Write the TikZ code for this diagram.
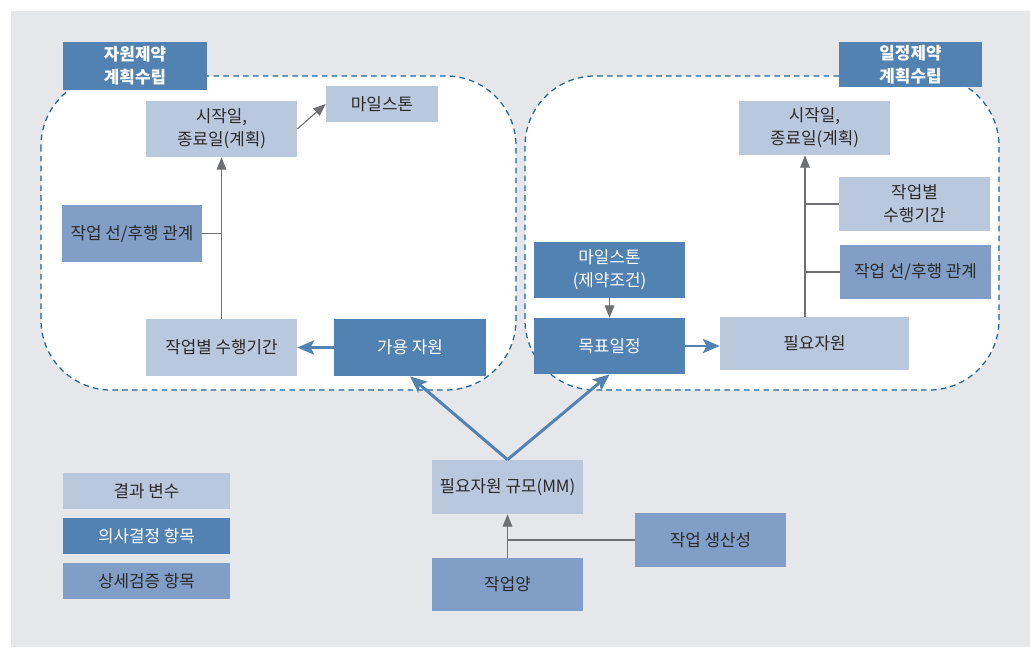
\documentclass[tikz,border=0pt]{standalone}
\usepackage{fontspec}
\newfontfamily\krfont{Noto Sans CJK KR}
\usetikzlibrary{arrows.meta}
\definecolor{bgray}{HTML}{E6E7EA}
\definecolor{rsltc}{HTML}{BAC8DE}
\definecolor{dcsnc}{HTML}{5282B1}
\definecolor{vrfyc}{HTML}{819EC6}
\definecolor{linec}{HTML}{6E6F72}
\definecolor{dashc}{HTML}{1F6496}
\definecolor{txtc}{HTML}{2A2A2A}

\begin{document}
\begin{tikzpicture}
  [x=0.02cm,y=-0.02cm,
   every node/.style={rectangle,inner sep=0pt,align=center,text=txtc,
     font=\krfont\fontsize{9.6}{13}\selectfont},
   rslt/.style={fill=rsltc},
   dcsn/.style={fill=dcsnc,text=white},
   vrfy/.style={fill=vrfyc},
   ttl/.style={fill=dcsnc,text=white,font=\krfont\bfseries\fontsize{9.6}{13}\selectfont},
   zone/.style={draw=dashc,dash pattern=on 3.2pt off 2.4pt,fill=white,rounded corners=1.4cm,line width=0.7pt},
   thin/.style={draw=linec,line width=0.6pt},
   flow/.style={thin,-{Triangle[length=7pt,width=5.5pt]}},
   push/.style={draw=dcsnc,line width=1.7pt,-{Stealth[length=9.5pt,width=8pt,inset=2pt]}}]
  \useasboundingbox (0,0) rectangle (1030,648);
  \fill[bgray] (11,11) rectangle (1030,647);
  \draw[zone] (41,76) rectangle (516,390);
  \draw[zone] (525,76) rectangle (999,390);

  % left zone
  \node[ttl,minimum width=2.88cm,minimum height=0.96cm] (tL) at (135,66) {자원제약\\계획수립};
  \node[rslt,minimum width=3.02cm,minimum height=1.12cm] (startL) at (221.5,129) {시작일,\\종료일(계획)};
  \node[rslt,minimum width=2.24cm,minimum height=0.72cm] (mileL) at (382,104) {마일스톤};
  \node[vrfy,minimum width=2.8cm,minimum height=1.14cm] (precL) at (132,233.5) {작업 선/후행 관계};
  \node[rslt,minimum width=3.02cm,minimum height=1.14cm] (durL) at (221.5,347.5) {작업별 수행기간};
  \node[dcsn,minimum width=3.04cm,minimum height=1.14cm] (avail) at (410,347.5) {가용 자원};

  % right zone
  \node[ttl,minimum width=2.86cm,minimum height=0.9cm] (tR) at (910.5,64.5) {일정제약\\계획수립};
  \node[rslt,minimum width=3.02cm,minimum height=1.08cm] (startR) at (814.5,128) {시작일,\\종료일(계획)};
  \node[rslt,minimum width=3.02cm,minimum height=1.08cm] (durR) at (914.5,204) {작업별\\수행기간};
  \node[vrfy,minimum width=3.02cm,minimum height=1.08cm] (precR) at (915.5,272) {작업 선/후행 관계};
  \node[dcsn,minimum width=3.02cm,minimum height=1.12cm] (mileR) at (609.5,270) {마일스톤\\(제약조건)};
  \node[dcsn,minimum width=3.02cm,minimum height=1.12cm] (target) at (609.5,346) {목표일정};
  \node[rslt,minimum width=3.78cm,minimum height=1.06cm] (need) at (814.5,343.5) {필요자원};

  % bottom
  \node[rslt,minimum width=3.02cm,minimum height=1.08cm] (scale) at (507.5,487) {필요자원 규모(MM)};
  \node[vrfy,minimum width=3.02cm,minimum height=1.08cm] (prod) at (710.5,540) {작업 생산성};
  \node[vrfy,minimum width=3.02cm,minimum height=1.06cm] (work) at (507.5,584.5) {작업양};

  % legend
  \node[rslt,minimum width=3.34cm,minimum height=0.72cm] (keyA) at (146.5,491) {결과 변수};
  \node[dcsn,minimum width=3.34cm,minimum height=0.72cm] (keyB) at (146.5,536) {의사결정 항목};
  \node[vrfy,minimum width=3.34cm,minimum height=0.72cm] (keyC) at (146.5,581) {상세검증 항목};

  \coordinate (spine) at ([xshift=-0.19cm]need.north);
  \draw[flow] (durL.north) -- (startL.south);
  \draw[thin] (precL.east) -- (precL.east -| durL.north);
  \draw[flow] (startL.east) -- (mileL.west);
  \draw[push] (avail.west) -- (durL.east);
  \draw[push] (scale.north) -- (avail.south);
  \draw[push] (scale.north) -- (target.south);
  \draw[flow] (mileR.south) -- (target.north);
  \draw[push] (target.east) -- (target.east -| need.west);
  \draw[flow] (spine) -- (spine |- startR.south);
  \draw[thin] (durR.west) -- (durR.west -| spine);
  \draw[thin] (precR.west) -- (precR.west -| spine);
  \draw[flow] (work.north) -- (scale.south);
  \draw[thin] (prod.west) -- (prod.west -| work.north);
\end{tikzpicture}
\end{document}
